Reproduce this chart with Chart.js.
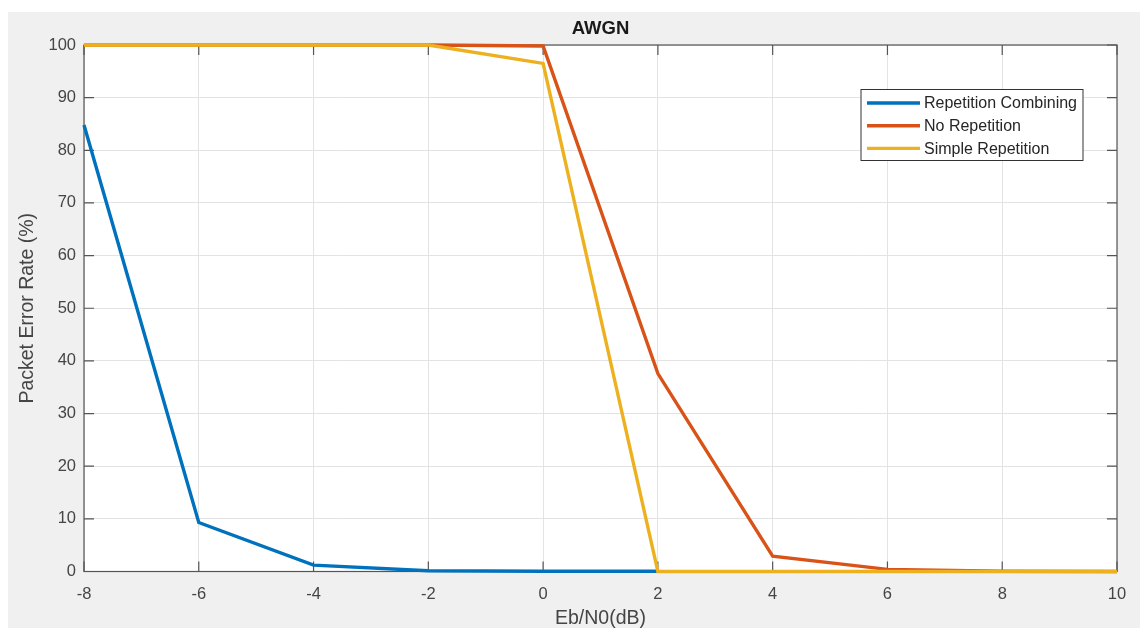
<!DOCTYPE html>
<html>
<head>
<meta charset="utf-8">
<title>AWGN</title>
<script src="https://cdn.jsdelivr.net/npm/chart.js@4/dist/chart.umd.min.js"></script>
<style>
  html, body { margin: 0; padding: 0; background: #ffffff; }
  #wrap { width: 1146px; height: 628px; }
</style>
</head>
<body>
<div id="wrap"><canvas id="c" width="1146" height="628"></canvas></div>
<script>
// Eb/N0 sweep (dB)
const ebn0 = [-8, -6, -4, -2, 0, 2, 4, 6, 8, 10];
const ebn0Combining = [-8, -6, -4, -2, 0, 2];

// Packet error rate (%)
const perCombining = [84.8, 9.3, 1.2, 0.15, 0.05, 0.05];
const perNoRep     = [100, 100, 100, 100, 99.8, 37.6, 2.9, 0.4, 0.05, 0];
const perSimpleRep = [100, 100, 100, 100, 96.5, 0, 0, 0, 0, 0];

const seriesNames = ['Repetition Combining', 'No Repetition', 'Simple Repetition'];
const seriesColors = ['#0072BD', '#D95319', '#EDB120'];

const xTicks = [-8, -6, -4, -2, 0, 2, 4, 6, 8, 10];
const yTicks = [0, 10, 20, 30, 40, 50, 60, 70, 80, 90, 100];

const FONT = "'Liberation Sans', Arial, Helvetica, sans-serif";
const AXIS_COLOR = '#555555';
const TEXT_COLOR = '#454545';

const toPoints = (xs, ys) => xs.map((x, i) => ({ x: x, y: ys[i] }));

// Figure background, box axes with inward ticks, titles and the in-plot legend
const figurePlugin = {
  id: 'figure',
  beforeDraw(chart) {
    const { ctx, chartArea: a } = chart;
    ctx.save();
    ctx.fillStyle = '#ffffff';
    ctx.fillRect(0, 0, chart.width, chart.height);
    ctx.fillStyle = '#f0f0f0';
    ctx.fillRect(8, 12, 1132, 616);
    ctx.fillStyle = '#ffffff';
    ctx.fillRect(a.left, a.top, a.right - a.left, a.bottom - a.top);
    ctx.restore();
  },
  beforeDatasetsDraw(chart) {
    const { ctx, chartArea: a, scales } = chart;
    const tl = 10;
    ctx.save();
    ctx.strokeStyle = AXIS_COLOR;
    ctx.lineWidth = 1.2;
    ctx.strokeRect(a.left, a.top, a.right - a.left, a.bottom - a.top);
    ctx.beginPath();
    xTicks.forEach(v => {
      const px = scales.x.getPixelForValue(v);
      ctx.moveTo(px, a.bottom); ctx.lineTo(px, a.bottom - tl);
      ctx.moveTo(px, a.top); ctx.lineTo(px, a.top + tl);
    });
    yTicks.forEach(v => {
      const py = scales.y.getPixelForValue(v);
      ctx.moveTo(a.left, py); ctx.lineTo(a.left + tl, py);
      ctx.moveTo(a.right, py); ctx.lineTo(a.right - tl, py);
    });
    ctx.stroke();
    ctx.restore();
  },
  afterDatasetsDraw(chart) {
    const { ctx, chartArea: a } = chart;
    ctx.save();
    // title
    ctx.fillStyle = '#1a1a1a';
    ctx.font = 'bold 18.5px ' + FONT;
    ctx.textAlign = 'center';
    ctx.textBaseline = 'middle';
    ctx.fillText('AWGN', (a.left + a.right) / 2, 29);
    // axis titles
    ctx.fillStyle = TEXT_COLOR;
    ctx.font = '19.5px ' + FONT;
    ctx.fillText('Eb/N0(dB)', (a.left + a.right) / 2, 619);
    ctx.save();
    ctx.translate(28, (a.top + a.bottom) / 2);
    ctx.rotate(-Math.PI / 2);
    ctx.fillText('Packet Error Rate (%)', 0, 0);
    ctx.restore();
    // legend
    const lx = 861, ly = 89.5, lw = 222, lh = 71;
    ctx.fillStyle = '#ffffff';
    ctx.fillRect(lx, ly, lw, lh);
    ctx.strokeStyle = '#333333';
    ctx.lineWidth = 1;
    ctx.strokeRect(lx, ly, lw, lh);
    ctx.font = '16px ' + FONT;
    ctx.textAlign = 'left';
    ctx.textBaseline = 'middle';
    chart.data.datasets.forEach((ds, i) => {
      const rowY = 103 + i * 22.7;
      ctx.strokeStyle = ds.borderColor;
      ctx.lineWidth = 3.4;
      ctx.beginPath();
      ctx.moveTo(867, rowY);
      ctx.lineTo(920, rowY);
      ctx.stroke();
      ctx.fillStyle = '#262626';
      ctx.fillText(ds.label, 924, rowY + 1);
    });
    ctx.restore();
  }
};

const lineStyle = { borderWidth: 3.4, pointRadius: 0, tension: 0, fill: false, clip: 4 };

new Chart(document.getElementById('c'), {
  type: 'line',
  data: {
    datasets: [
      { label: seriesNames[0], data: toPoints(ebn0Combining, perCombining), borderColor: seriesColors[0], order: 2, ...lineStyle },
      { label: seriesNames[1], data: toPoints(ebn0, perNoRep), borderColor: seriesColors[1], order: 1, ...lineStyle },
      { label: seriesNames[2], data: toPoints(ebn0, perSimpleRep), borderColor: seriesColors[2], order: 0, ...lineStyle }
    ]
  },
  options: {
    responsive: false,
    animation: false,
    events: [],
    layout: { padding: { left: 0, right: 29, top: 45, bottom: 0 } },
    plugins: { legend: { display: false }, title: { display: false }, tooltip: { enabled: false } },
    scales: {
      x: {
        type: 'linear',
        min: -8, max: 10,
        afterFit(s) { s.height = 56.5; },
        afterBuildTicks(s) { s.ticks = xTicks.map(v => ({ value: v })); },
        border: { display: false },
        grid: { color: '#e3e3e3', lineWidth: 1, drawTicks: false },
        ticks: { color: TEXT_COLOR, font: { family: FONT, size: 16.5 }, padding: 13, maxRotation: 0, autoSkip: false }
      },
      y: {
        type: 'linear',
        min: 0, max: 100,
        afterFit(s) { s.width = 84; },
        afterBuildTicks(s) { s.ticks = yTicks.map(v => ({ value: v })); },
        border: { display: false },
        grid: { color: '#e3e3e3', lineWidth: 1, drawTicks: false },
        ticks: { color: TEXT_COLOR, font: { family: FONT, size: 16.5 }, padding: 8, autoSkip: false }
      }
    }
  },
  plugins: [figurePlugin]
});
</script>
</body>
</html>
